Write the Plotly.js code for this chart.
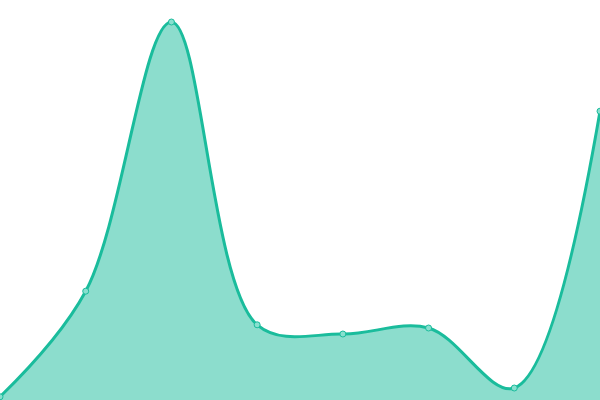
<!DOCTYPE html>
<html>
<head>
<meta charset="utf-8">
<script src="https://cdn.plot.ly/plotly-3.0.1.min.js"></script>
<style>
  html, body { margin: 0; padding: 0; background: #fff; }
  #chart { width: 600px; height: 400px; }
</style>
</head>
<body>
<div id="chart"></div>
<script>
var xs = [0, 1, 2, 3, 4, 5, 6, 7];
var values = [0.8, 27.2, 94.5, 18.8, 16.5, 18, 3, 72.2];

var trace = {
    x: xs,
    y: values,
    type: 'scatter',
    mode: 'lines+markers',
    fill: 'tozeroy',
    fillcolor: 'rgba(26,188,156,0.5)',
    line: { color: '#1abc9c', width: 3, shape: 'spline', smoothing: 1 },
    marker: { size: 6, color: '#88e0cf', line: { color: '#1abc9c', width: 1 } },
    cliponaxis: false,
    hoverinfo: 'none'
};

var layout = {
    width: 600,
    height: 400,
    margin: { l: 0, r: 0, t: 0, b: 0 },
    paper_bgcolor: '#fff',
    plot_bgcolor: '#fff',
    showlegend: false,
    xaxis: { range: [0, 7], visible: false, fixedrange: true },
    yaxis: { range: [0, 100], visible: false, fixedrange: true }
};

Plotly.newPlot('chart', [trace], layout, { staticPlot: true });
</script>
</body>
</html>
